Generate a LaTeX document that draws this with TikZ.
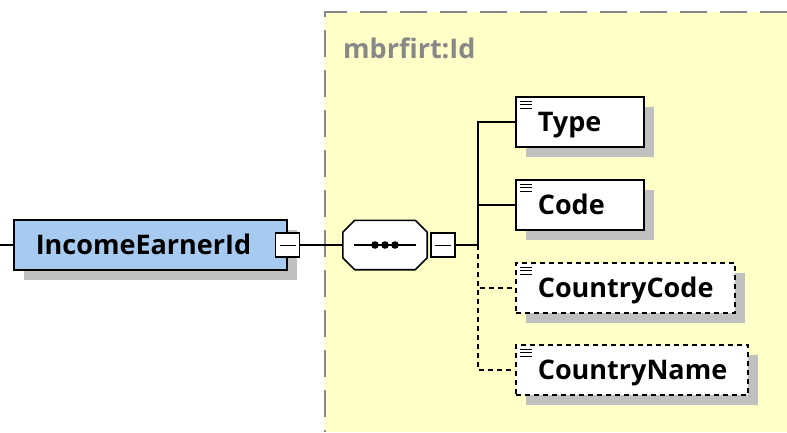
\documentclass[tikz,border=0pt]{standalone}
\usepackage{fontspec}
\setmainfont{Open Sans}
\usepackage{tikz}
\usetikzlibrary{shadows}
\tikzset{>=stealth}
\definecolor{grpyellow}{RGB}{255,255,200}
\definecolor{rootblue}{RGB}{166,202,240}
\definecolor{shadegray}{RGB}{192,192,192}
\definecolor{grpgray}{RGB}{136,136,136}
\tikzset{
  shade/.style={drop shadow={shadow xshift=10pt, shadow yshift=-10pt, opacity=1, fill=shadegray}},
  box/.style={draw, line width=1.6pt, fill=white, anchor=west, minimum height=50pt,
    inner xsep=0pt, inner ysep=0pt, align=left, text height=19pt, text depth=0pt,
    font=\fontsize{27}{31}\selectfont\bfseries,
    execute at begin node=\hspace*{22pt}, shade},
  elem/.style={box, path picture={
      \foreach \k in {4pt,7.5pt,11pt}
        \draw[solid, line width=1pt] ([xshift=4pt,yshift=-\k]path picture bounding box.north west) -- +(12,0);}},
  opt/.style={elem, dash pattern=on 5pt off 4pt},
  minus/.style={draw, line width=1.4pt, fill=white, minimum size=24pt, inner sep=0pt,
    path picture={\draw[line width=1pt] ([xshift=4pt]path picture bounding box.west) -- ([xshift=-4pt]path picture bounding box.east);}},
  link/.style={line width=1.5pt}
}
\begin{document}
\begin{tikzpicture}[x=1pt,y=-1pt]
          \def\cut{12pt}
          \def\octagon{([xshift=\cut]seq.north west) -- ([xshift=-\cut]seq.north east) -- ([yshift=-\cut]seq.north east)
            -- ([yshift=\cut]seq.south east) -- ([xshift=-\cut]seq.south east) -- ([xshift=\cut]seq.south west)
            -- ([yshift=\cut]seq.south west) -- ([yshift=-\cut]seq.north west) -- cycle}
          \useasboundingbox (0,0) rectangle (787,432);
          \fill[grpyellow] (325,12) rectangle (787,432);
          \draw[grpgray, line width=1.5pt, dash pattern=on 27pt off 13pt] (787,12) -- (325,12) -- (325,432);
          \node[grpgray, font=\fontsize{27}{31}\selectfont\bfseries, anchor=base west, inner sep=0pt] (grp) at (343,58) {mbrfirt:Id};
          \coordinate (in) at (0,245);
          \coordinate (bus) at (478,245);
          \node[box, fill=rootblue, text width=273pt] (root) at (13,245) {IncomeEarnerId};
          \node[minus] (rootm) at (root.east) {};
          \node[minimum width=84pt, minimum height=49pt, inner sep=0pt] (seq) at (385,245) {};
          \fill[shadegray, xshift=10pt, yshift=-10pt] \octagon;
          \filldraw[fill=white, line width=1.6pt, line join=round] \octagon;
          \node[minus, anchor=west] (seqm) at ([xshift=3pt]seq.east) {};
          \draw[line width=1.6pt] ([xshift=-31pt]seq.center) -- ([xshift=31pt]seq.center);
          \foreach \d in {-10pt,0pt,10pt}
            \fill ([xshift=\d]seq.center) circle (3.8);
          \node[elem, text width=128pt] (type) at (515,122) {Type};
          \node[elem, text width=128pt] (code) at (515,205) {Code};
          \node[opt, text width=219pt] (ccode) at (515,288) {CountryCode};
          \node[opt, text width=232pt] (cname) at (515,370) {CountryName};
          \draw[link] (in) -- (root.west);
          \draw[link] (rootm.east) -- (seq.west);
          \draw[link] (seqm.east) -- (bus);
          \draw[link] (bus) |- (type.west);
          \draw[link] (bus) |- (code.west);
          \begin{scope}[link, dash pattern=on 5pt off 4pt]
            \draw (bus) |- (ccode.west);
            \draw (bus) |- (cname.west);
          \end{scope}
        \end{tikzpicture}
\end{document}
